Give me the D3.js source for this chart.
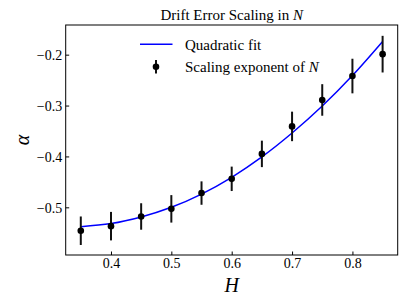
<!DOCTYPE html>
<html><head><meta charset="utf-8">
<script src="https://cdn.jsdelivr.net/npm/d3@7"></script>
<style>body{margin:0;background:#fff}text{font-family:"Liberation Serif","DejaVu Serif",serif;fill:#000}</style>
</head><body><svg id="c" width="407" height="305"></svg>
<script>
const H = [0.35,0.40,0.45,0.50,0.55,0.60,0.65,0.70,0.75,0.80,0.85];
const alpha = [-0.546,-0.537,-0.518,-0.503,-0.472,-0.444,-0.395,-0.341,-0.289,-0.242,-0.199];
const alphaErr = [0.028,0.028,0.026,0.027,0.023,0.024,0.026,0.029,0.031,0.034,0.036];
const fitAlpha = [-0.538,-0.532,-0.519,-0.500,-0.474,-0.441,-0.401,-0.354,-0.301,-0.241,-0.174];
const xTicks = [0.4,0.5,0.6,0.7,0.8];
const yTicks = [-0.5,-0.4,-0.3,-0.2];
const title = "Drift Error Scaling in ";
const legendLabels = ["Quadratic fit","Scaling exponent of "];

const svg = d3.select("#c");
const L=65.7,R=397.7,T=25,B=255;
const x = d3.scaleLinear().domain([0.325,0.875]).range([L,R]);
const y = d3.scaleLinear().domain([-0.5937,-0.1417]).range([B,T]);

const xa = svg.append("g").attr("transform",`translate(0,${B})`)
  .call(d3.axisBottom(x).tickValues(xTicks).tickFormat(d3.format(".1f")).tickSizeInner(-3.5).tickSizeOuter(0));
const ya = svg.append("g").attr("transform",`translate(${L},0)`)
  .call(d3.axisLeft(y).tickValues(yTicks).tickFormat(d=>"\u2212"+Math.abs(d).toFixed(1)).tickSizeInner(-3.5).tickSizeOuter(0));
[xa,ya].forEach(a=>{a.select(".domain").remove();a.selectAll("text").style("font-size","14px").attr("fill","#000").style("font-family","'Liberation Serif',serif");a.selectAll("line").attr("stroke","#000");});
xa.selectAll("text").attr("y",13).attr("dy","0");
ya.selectAll("text").attr("x",-3.5).attr("dy","0.35em");

// fit line
svg.append("path").datum(H.map((h,i)=>[h,fitAlpha[i]]))
  .attr("d",d3.line().x(d=>x(d[0])).y(d=>y(d[1])).curve(d3.curveCatmullRom))
  .attr("fill","none").attr("stroke","#0000ff").attr("stroke-width",1.5);

// error bars
svg.append("g").selectAll("line").data(H).join("line")
  .attr("x1",d=>x(d)).attr("x2",d=>x(d))
  .attr("y1",(d,i)=>y(alpha[i]-alphaErr[i])).attr("y2",(d,i)=>y(alpha[i]+alphaErr[i]))
  .attr("stroke","#111").attr("stroke-width",2);
svg.append("g").selectAll("circle").data(H).join("circle")
  .attr("cx",d=>x(d)).attr("cy",(d,i)=>y(alpha[i])).attr("r",3.3).attr("fill","#000");

// frame
svg.append("rect").attr("x",L).attr("y",T).attr("width",R-L).attr("height",B-T)
  .attr("fill","none").attr("stroke","#000").attr("stroke-width",1);

// title
const t = svg.append("text").attr("x",(L+R)/2).attr("y",19.5).attr("text-anchor","middle").style("font-size","15px");
t.append("tspan").text(title);
t.append("tspan").attr("font-style","italic").text("N");

// axis labels
svg.append("text").attr("x",(L+R)/2).attr("y",291.5).attr("text-anchor","middle")
  .attr("font-style","italic").style("font-size","20px").text("H");
svg.append("text").attr("transform","translate(29,140) rotate(-90)").attr("text-anchor","middle")
  .attr("font-style","italic").style("font-size","20px").text("\u03b1");

// legend
svg.append("line").attr("x1",140).attr("x2",172.5).attr("y1",44.3).attr("y2",44.3).attr("stroke","#0000ff").attr("stroke-width",1.5);
svg.append("text").attr("x",185).attr("y",49.5).style("font-size","15px").text(legendLabels[0]);
svg.append("line").attr("x1",156).attr("x2",156).attr("y1",60).attr("y2",73.5).attr("stroke","#111").attr("stroke-width",2);
svg.append("circle").attr("cx",156).attr("cy",66.7).attr("r",3.3).attr("fill","#000");
const lt = svg.append("text").attr("x",185).attr("y",72).style("font-size","15px");
lt.append("tspan").text(legendLabels[1]);
lt.append("tspan").attr("font-style","italic").text("N");
</script></body></html>
